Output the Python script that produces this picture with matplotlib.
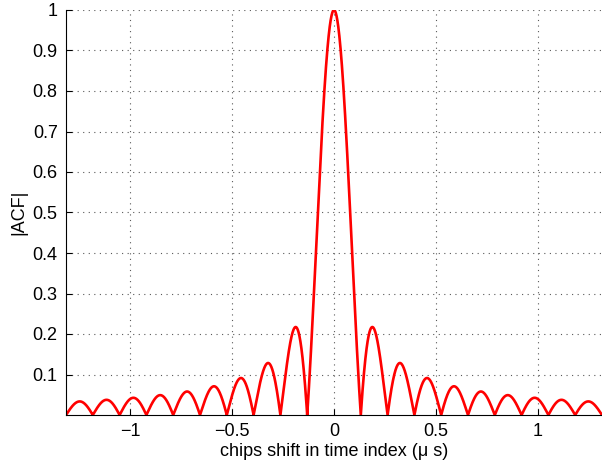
import numpy as np
import matplotlib.pyplot as plt

# values
null_spacing = 0.1315      # distance between zeros of |ACF| (us)
n_lobes = 10               # lobes on each side of the peak shown
x_ticks = [-1, -0.5, 0, 0.5, 1]
x_tick_labels = ["\u22121", "\u22120.5", "0", "0.5", "1"]
y_ticks = [0.1, 0.2, 0.3, 0.4, 0.5, 0.6, 0.7, 0.8, 0.9, 1]
y_tick_labels = ["0.1", "0.2", "0.3", "0.4", "0.5", "0.6", "0.7", "0.8", "0.9", "1"]

# |ACF| of a rectangular-spectrum code: |sinc|
x_max = n_lobes * null_spacing
tau = np.linspace(-x_max, x_max, 4001)
acf = np.abs(np.sinc(tau / null_spacing))

plt.rcParams["font.family"] = ["Liberation Sans", "DejaVu Sans"]

fig = plt.figure(figsize=(6.02, 4.68), dpi=100)
ax = fig.add_axes([66 / 602, 53 / 468, 536 / 602, 405 / 468])

ax.plot(tau, acf, color="red", lw=1.9)

ax.set_xlim(-x_max, x_max)
ax.set_ylim(0, 1)
ax.set_xticks(x_ticks)
ax.set_xticklabels(x_tick_labels)
ax.set_yticks(y_ticks)
ax.set_yticklabels(y_tick_labels)
ax.tick_params(direction="in", labelsize=13, length=4, pad=6)

ax.grid(True, color="0.35", linestyle=(0, (1, 4)), linewidth=0.8)
ax.spines["top"].set_visible(False)
ax.spines["right"].set_visible(False)

ax.set_xlabel("chips shift in time index (\u03bc s)", fontsize=13, labelpad=2)
ax.set_ylabel("|ACF|", fontsize=13, labelpad=4)

fig.savefig("out.png", dpi=100)
